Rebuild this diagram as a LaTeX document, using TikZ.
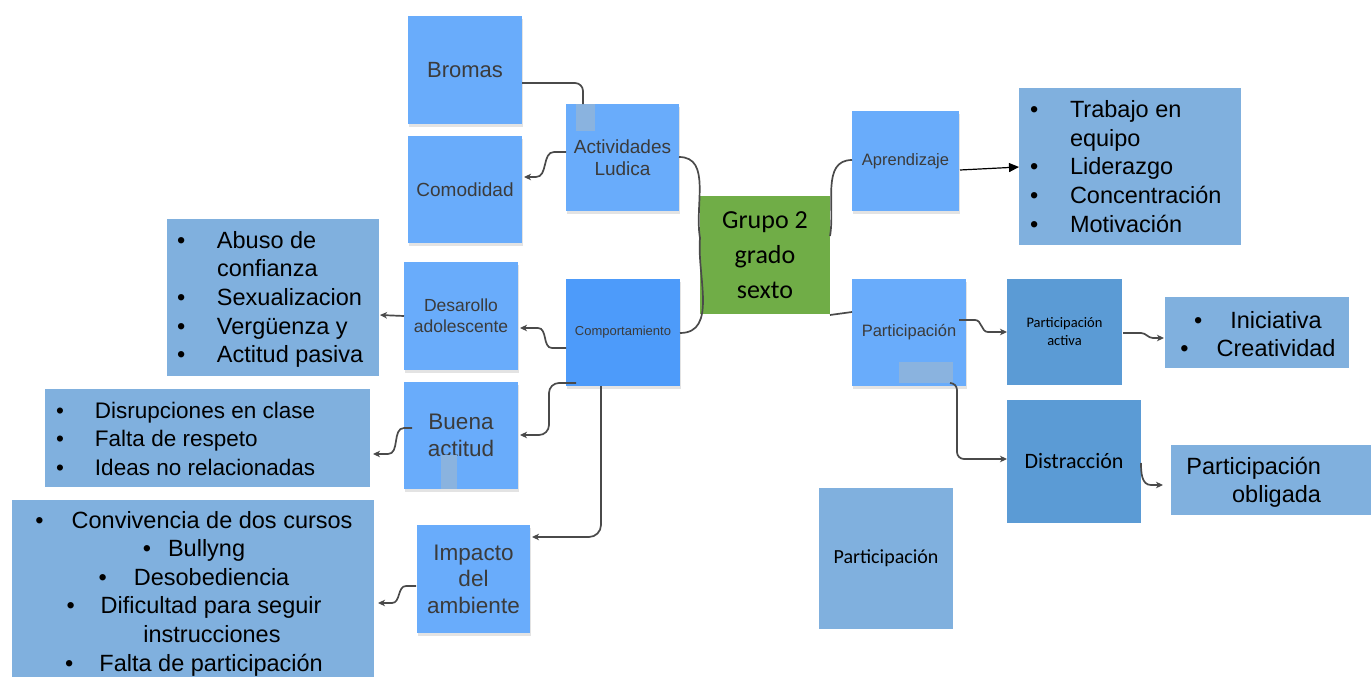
\documentclass[tikz,border=0pt]{standalone}
\usepackage{fontspec}
\setmainfont{Liberation Sans}
\newfontfamily\calib{Carlito}
\usetikzlibrary{calc,arrows.meta,shadows}
\definecolor{stick}{HTML}{69ACFB}
\definecolor{stickdeep}{HTML}{4D9BFA}
\definecolor{steel}{HTML}{80B0DE}
\definecolor{darkb}{HTML}{5B9BD5}
\definecolor{ovl}{HTML}{8AB3DF}
\definecolor{grn}{HTML}{70AD47}
\definecolor{stxt}{HTML}{3B3B3B}
\definecolor{lnc}{HTML}{4A4A4A}
\newcommand\fsz[2]{\fontsize{#1}{#2}\selectfont}
\newcommand\lbul[1]{\makebox[#1][l]{\textbullet}}
\begin{document}
\begin{tikzpicture}[x=1pt,y=-1pt,
  bx/.style={draw=none, inner sep=0pt, outer sep=0pt, align=center},
  wh/.style 2 args={minimum width=#1pt, minimum height=#2pt},
  sticky/.style={bx, fill=stick, text=stxt, drop shadow={opacity=0.22, shadow xshift=1pt, shadow yshift=-3pt}},
  listbox/.style={bx, fill=steel},
  deepbox/.style={bx, fill=darkb, text=black},
  ovbox/.style={bx, fill=ovl},
  listtxt/.style={inner sep=0pt, outer sep=0pt, text=black, align=left},
  conn/.style={draw=lnc, line width=1.7pt},
  arr/.style={conn, -{Stealth[length=7pt,width=6.5pt,inset=2pt]}},
  bigarr/.style={draw=black, line width=1.2pt, -{Triangle[length=10pt,width=9pt]}}
]
\fill[white] (0,0) rectangle (1371,677);
\useasboundingbox (0,0) rectangle (1371,677);

% left-top cluster
\node[sticky, wh={114}{108}, font=\fsz{22}{26}] (bromas) at (465,70) {Bromas};
\node[sticky, wh={114}{107}, font=\fsz{19}{22}] (comod) at (465,189.5) {Comodidad};
\node[sticky, wh={113}{107}, font=\fsz{19}{22}] (act) at (622.5,157.5) {Actividades\\Ludica};

% center
\node[bx, fill=grn, wh={130}{118}, font=\calib\fsz{26}{35}] (grupo) at (765,255) {Grupo 2\\grado\\sexto};

% right-top
\node[sticky, wh={107}{100}, font=\fsz{16.5}{20}] (aprend) at (905.5,161) {Aprendizaje};
\node[listbox, wh={222}{157}] (trab) at (1130,166.5) {};
\node[listtxt, anchor=west, font=\fsz{23.5}{28.7}] (trabT) at (1030,166.5)
  {\lbul{40pt}Trabajo en\\\hspace*{40pt}equipo\\\lbul{40pt}Liderazgo\\\lbul{40pt}Concentración\\\lbul{40pt}Motivación};

% left-middle
\node[sticky, wh={114}{108}, font=\fsz{17.5}{21}] (desa) at (461,316) {Desarollo\\adolescente};
\node[sticky, fill=stickdeep, wh={114}{107}, font=\fsz{13}{16}] (comp) at (623,332.5) {Comportamiento};
\node[listbox, wh={212}{157}] (abuso) at (273,297.5) {};
\node[listtxt, anchor=west, font=\fsz{23.5}{28.7}] (abusoT) at (177,299.5)
  {\lbul{40pt}Abuso de\\\hspace*{40pt}confianza\\\lbul{40pt}Sexualizacion\\\lbul{40pt}Vergüenza y\\\lbul{40pt}Actitud pasiva};

\node[sticky, wh={114}{107}, font=\fsz{22.5}{27}] (buena) at (461,435.5) {Buena\\actitud};
\node[listbox, wh={325}{98}] (disr) at (207.5,438) {};
\node[listtxt, anchor=west, font=\fsz{22.5}{28.5}] (disrT) at (56,438.5)
  {\lbul{39pt}Disrupciones en clase\\\lbul{39pt}Falta de respeto\\\lbul{39pt}Ideas no relacionadas};

\node[sticky, wh={113}{108}, font=\fsz{22.5}{26.5}] (imp) at (473.5,579) {Impacto\\del\\ambiente};
\node[listbox, wh={362}{177}] (conv) at (193,588.5) {};
\node[listtxt, align=center, font=\fsz{23.5}{28.6}] (convT) at (194,593.5)
  {\textbullet\hspace{28pt}Convivencia de dos cursos\\
   \textbullet\hspace{17pt}Bullyng\\
   \textbullet\hspace{27pt}Desobediencia\\
   \textbullet\hspace{26pt}Dificultad para seguir\\
   \hspace*{36pt}instrucciones\\
   \textbullet\hspace{26pt}Falta de participación};

% right-middle
\node[sticky, wh={114}{107}, font=\fsz{16.5}{20}] (part) at (909,332.5) {Participación};
\node[deepbox, wh={115}{106}, font=\calib\fsz{14.5}{18}] (pact) at (1064.5,332) {Participación\\activa};
\node[listbox, wh={184}{71}] (inic) at (1257,332.5) {};
\node[listtxt, align=center, font=\fsz{23.5}{28}] (inicT) at (1258,334)
  {\textbullet\hspace{28pt}Iniciativa\\\textbullet\hspace{28pt}Creatividad};
\node[deepbox, wh={134}{123}, font=\calib\fsz{22}{26}] (dist) at (1074,461.5) {Distracción};
\node[listbox, wh={200}{70}] (oblig) at (1271,480) {};
\node[listtxt, align=right, anchor=east, font=\fsz{23.5}{28}] (obligT) at (1321,482) {Participación\\obligada};
\node[listbox, wh={134}{141}, font=\calib\fsz{20}{24}] (partB) at (886,558.5) {Participación};

% small overlay patches
\node[ovbox, wh={19}{27}] (ovA) at (585.5,117.5) {};
\node[ovbox, wh={16}{34}] (ovB) at (449,472) {};
\node[ovbox, wh={54}{21}] (ovC) at (926,372.5) {};

% connectors
\draw[conn, rounded corners=8pt] ($(bromas.north east)+(0,67)$) -| ($(act.north west)+(17,0)$);
\draw[arr] ($(act.north west)+(0,48)$) -- ++(-12,0) to[out=180,in=0] ($(comod.north east)+(14,41)$) -- ($(comod.north east)+(2,41)$);
\draw[conn] ($(act.north east)+(0,53)$) to[out=0,in=100] ($(grupo.north west)+(0,42)$);
\draw[conn] ($(grupo.north west)+(0,42)$) to[out=265,in=0] ($(comp.north east)+(0,54)$);
\draw[conn] ($(grupo.north east)+(0,40)$) to[out=80,in=180] ($(aprend.north west)+(0,49)$);
\draw[conn] ($(grupo.south east)+(0,1)$) -- ($(part.north west)+(0,33)$);
\draw[bigarr] ($(aprend.north east)+(1,59)$) -- ($(trab.north west)+(0,79)$);
\draw[arr] ($(part.north east)+(-7,41)$) -- ++(16,0) to[out=0,in=180] ++(13,12) -- ($(pact.north west)+(0,53)$);
\draw[arr] ($(pact.north east)+(1,54)$) -- ++(18,0) to[out=0,in=180] ++(12,5) -- ($(inic.north west)+(-1,41)$);
\draw[arr, rounded corners=7pt] ($(ovC.south east)+(-3,0)$) -| ++(7,76) -- ($(dist.north west)+(0,59)$);
\draw[arr] ($(dist.north east)+(0,63)$) to[out=270,in=180] ++(10,22) -- ($(oblig.north west)+(-8,40)$);
\draw[arr] ($(comp.north west)+(0,69)$) -- ++(-14,0) to[out=180,in=0] ++(-14,-20) -- ($(desa.north east)+(2,66)$);
\draw[arr] ($(desa.north west)+(0,54)$) -- ($(abuso.north east)+(1,96)$);
\draw[arr, rounded corners=10pt] ($(comp.south west)+(10,-3)$) -| ($(buena.north east)+(31,53)$) -- ($(buena.north east)+(2,53)$);
\draw[arr] ($(buena.north west)+(8,46)$) -- ++(-8,0) to[out=180,in=0] ++(-16,26) -- ($(disr.north east)+(3,65)$);
\draw[arr, rounded corners=12pt] ($(comp.south west)+(35,0)$) |- ($(imp.north east)+(2,12)$);
\draw[arr] ($(imp.north west)+(-1,61)$) -- ++(-10,0) to[out=180,in=0] ++(-14,17) -- ($(conv.north east)+(4,103)$);
\end{tikzpicture}
\end{document}
